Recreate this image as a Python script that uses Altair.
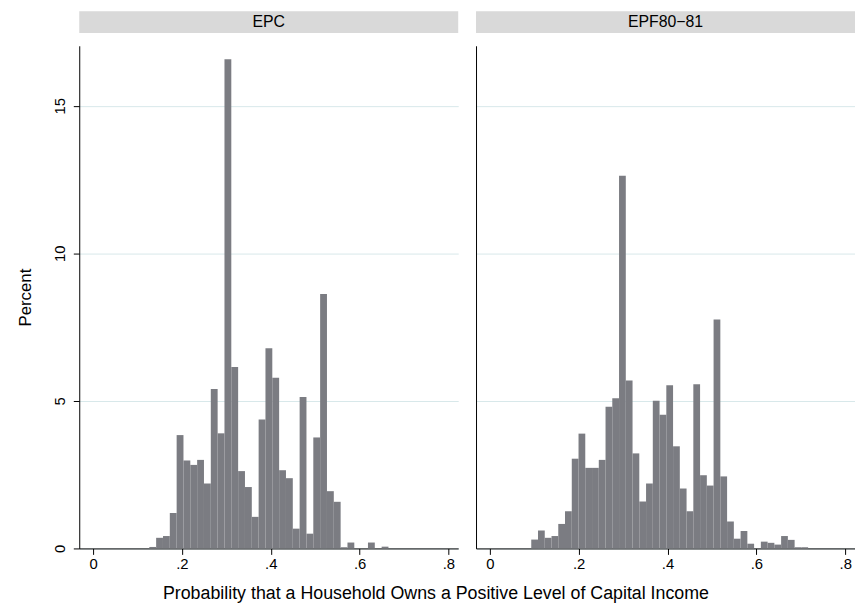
import pandas as pd
import altair as alt

# Histogram bins (percent per bin)
epc_start = 0.1267
epc_width = 0.01538
epc_pct = [0.05, 0.36, 0.42, 1.2, 3.84, 2.98, 2.83, 3.0, 2.2, 5.4, 3.9, 16.57, 6.15,
           2.62, 2.08, 1.07, 4.37, 6.78, 5.78, 2.65, 2.38, 0.67, 5.13, 0.5, 3.76,
           8.62, 1.94, 1.58, 0.04, 0.2, 0.0, 0.0, 0.2, 0.0, 0.06]

epf_start = 0.0933
epf_width = 0.0152
epf_pct = [0.3, 0.61, 0.36, 0.42, 0.83, 1.26, 3.04, 3.89, 2.73, 2.73, 3.0, 4.8, 5.09,
           12.63, 5.69, 3.22, 1.59, 2.2, 5.0, 4.53, 5.53, 3.46, 2.03, 1.26, 5.56,
           2.48, 2.13, 7.76, 2.44, 0.91, 0.33, 0.59, 0.16, 0.0, 0.23, 0.19, 0.13,
           0.42, 0.29, 0.04, 0.04]

x_ticks = [0, 0.2, 0.4, 0.6, 0.8]
y_ticks = [0, 5, 10, 15]

FONT = "Liberation Sans"
BAR = "#7b7c82"
GRID = "#d8e8ea"
W, H = 383, 508


def bins(start, width, pct):
    return pd.DataFrame({
        "x0": [start + i * width for i in range(len(pct))],
        "x1": [start + (i + 1) * width for i in range(len(pct))],
        "pct": pct,
    })


def panel(df, label, first):
    yaxis = alt.Axis(values=y_ticks, labelAngle=270, labelAlign="center", labelBaseline="bottom",
                     labelPadding=6, labelFontSize=15, titleFontSize=17, titleFont=FONT, labelFont=FONT,
                     labels=first, ticks=first, tickSize=6, title="Percent" if first else None,
                     gridColor=GRID, domainColor="black", tickColor="black", titlePadding=18,
                     labelColor="black", titleColor="black", titleFontWeight="normal")
    xaxis = alt.Axis(values=x_ticks, labelExpr="datum.value == 0 ? '0' : replace(format(datum.value, '.1f'), '0.', '.')",
                     grid=False, labelFontSize=15, labelFont=FONT, tickSize=6, domainColor="black",
                     tickColor="black", labelColor="black", title=None, labelFlush=False)
    bars = alt.Chart(df).mark_rect(color=BAR).encode(
        x=alt.X("x0:Q", scale=alt.Scale(domain=[-0.031, 0.822], nice=False, zero=False), axis=xaxis),
        x2="x1:Q",
        y=alt.Y("pct:Q", scale=alt.Scale(domain=[0, 17.03], nice=False), axis=yaxis),
        y2=alt.datum(0),
    )
    head = alt.Chart(pd.DataFrame({"t": [label]})).mark_rect(color="#d9d9d9").encode(
        x=alt.value(0), x2=alt.value(W), y=alt.value(-35), y2=alt.value(-13))
    text = alt.Chart(pd.DataFrame({"t": [label]})).mark_text(font=FONT, fontSize=16, color="black").encode(
        x=alt.value(W / 2), y=alt.value(-24), text="t:N")
    return alt.layer(head, text, bars).properties(width=W, height=H)


chart = alt.hconcat(
    panel(bins(epc_start, epc_width, epc_pct), "EPC", True),
    panel(bins(epf_start, epf_width, epf_pct), "EPF80\u221281", False),
    spacing=18,
).properties(
    title=alt.TitleParams("Probability that a Household Owns a Positive Level of Capital Income",
                          orient="bottom", anchor="middle", font=FONT, fontSize=18,
                          fontWeight="normal", offset=14),
    padding={"left": 8, "top": 0, "right": 0, "bottom": 0},
).configure_view(stroke=None)

chart.save("out.html", embed_options={"renderer": "svg", "actions": False})
